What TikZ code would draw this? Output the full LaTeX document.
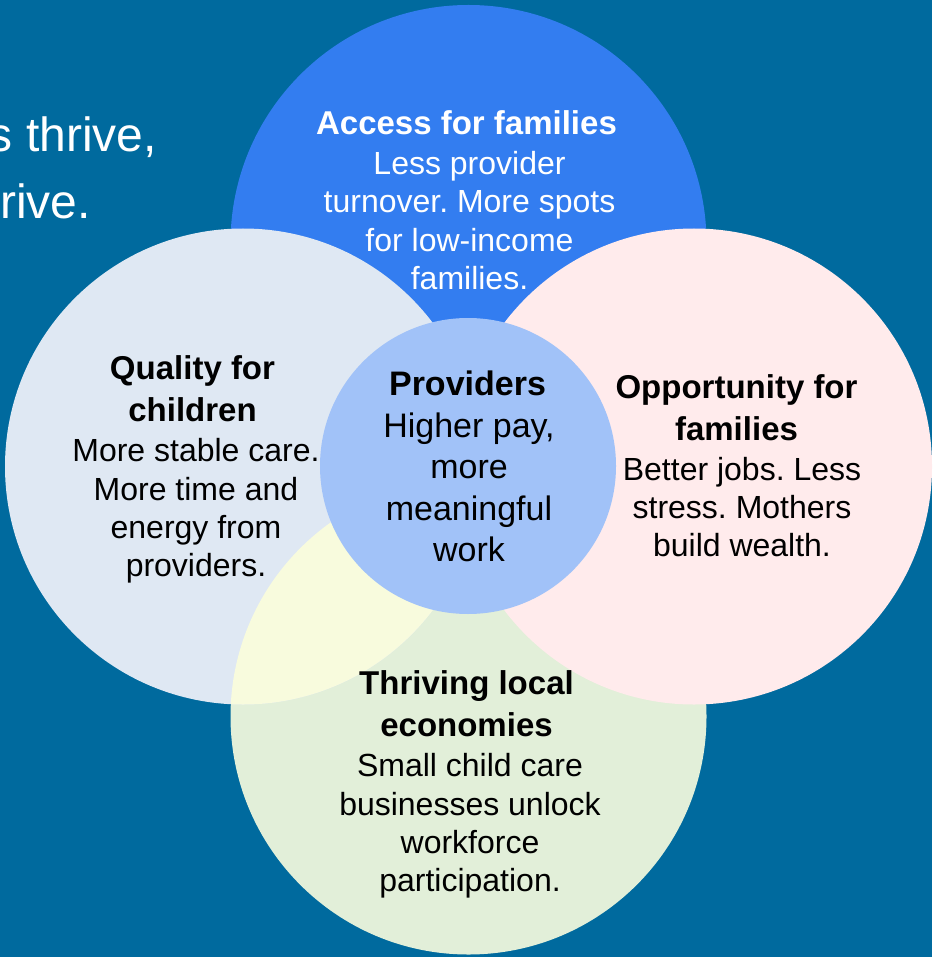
\documentclass[tikz,border=0pt]{standalone}
\usepackage{fontspec}
\setmainfont{Liberation Sans}
\frenchspacing
\definecolor{bgblue}{RGB}{0,106,158}
\definecolor{topblue}{RGB}{51,125,240}
\definecolor{leftgrey}{RGB}{223,232,243}
\definecolor{rightpink}{RGB}{255,235,236}
\definecolor{botgreen}{RGB}{226,239,217}
\definecolor{lbyellow}{RGB}{248,251,221}
\definecolor{midblue}{RGB}{161,194,248}
\tikzset{
  headtext/.style={inner sep=0pt, anchor=base, font=\fontsize{33}{42}\selectfont\bfseries\frenchspacing},
  bodytext/.style={inner sep=0pt, anchor=base, font=\fontsize{32}{38.4}\selectfont\frenchspacing},
  midhead/.style={inner sep=0pt, anchor=base, font=\fontsize{34}{42}\selectfont\bfseries\frenchspacing},
  midbody/.style={inner sep=0pt, anchor=base, font=\fontsize{34}{41.5}\selectfont\frenchspacing},
  bigtext/.style={inner sep=0pt, anchor=base east, text=white, font=\fontsize{48}{58}\selectfont},
  disc/.style={radius=238pt}
}
\begin{document}
\frenchspacing
\begin{tikzpicture}[x=1pt,y=-1pt]
\useasboundingbox (0,0) rectangle (932,957);
\clip (0,0) rectangle (932,957);
\fill[bgblue] (0,0) rectangle (932,957);
% partly hidden slide title
\node[bigtext] (title1) at (157,151.7) {s thrive,};
\node[bigtext] (title2) at (91,218.3) {rive.};
% circle centres
\coordinate (T) at (468.5,243);
\coordinate (B) at (468.5,716.5);
\coordinate (L) at (243,466.5);
\coordinate (R) at (694,466.5);
\coordinate (M) at (468,466);
\fill[topblue] (T) circle[disc];
\fill[botgreen] (B) circle[disc];
\fill[leftgrey] (L) circle[disc];
\begin{scope}
  \clip (L) circle[disc];
  \fill[lbyellow] (B) circle[disc];
\end{scope}
\fill[rightpink] (R) circle[disc];
\fill[midblue] (M) circle[radius=148pt];
% top circle
\node[headtext, text=white] (tophead) at (466.5,135) {Access for families};
\node[bodytext, text=white] (topbody) at (469.5,174.5) {\begin{tabular}[t]{@{}c@{}}Less provider\\turnover. More spots\\for low-income\\families.\end{tabular}};
% left circle
\node[headtext] (lefthead) at (192.5,379) {\begin{tabular}[t]{@{}c@{}}Quality for\\children\end{tabular}};
\node[bodytext] (leftbody) at (196,461.7) {\begin{tabular}[t]{@{}c@{}}More stable care.\\More time and\\energy from\\providers.\end{tabular}};
% right circle
\node[headtext] (righthead) at (736.5,398) {\begin{tabular}[t]{@{}c@{}}Opportunity for\\families\end{tabular}};
\node[bodytext] (rightbody) at (742,480) {\begin{tabular}[t]{@{}c@{}}Better jobs. Less\\stress. Mothers\\build wealth.\end{tabular}};
% bottom circle
\node[headtext] (bothead) at (466.5,694.3) {\begin{tabular}[t]{@{}c@{}}Thriving local\\economies\end{tabular}};
\node[bodytext] (botbody) at (470,776.7) {\begin{tabular}[t]{@{}c@{}}Small child care\\businesses unlock\\workforce\\participation.\end{tabular}};
% centre circle
\node[midhead] (midhd) at (467.5,395) {Providers};
\node[midbody] (midbd) at (469,437) {\begin{tabular}[t]{@{}c@{}}Higher pay,\\more\\meaningful\\work\end{tabular}};
\end{tikzpicture}
\end{document}
